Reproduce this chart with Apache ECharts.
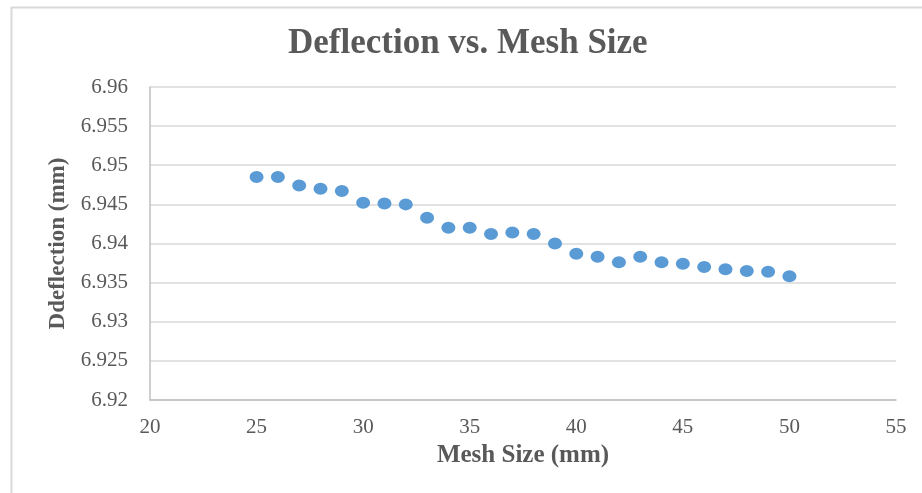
<!DOCTYPE html>
<html>
<head>
<meta charset="utf-8">
<script src="https://cdn.jsdelivr.net/npm/echarts@6/dist/echarts.min.js"></script>
<style>
  html, body { margin: 0; padding: 0; background: #ffffff; }
  #chart { width: 922px; height: 493px; }
</style>
</head>
<body>
<div id="chart"></div>
<script>
// Mesh size (mm) and the computed deflection (mm) for each mesh
const meshSize = [25, 26, 27, 28, 29, 30, 31, 32, 33, 34, 35, 36, 37, 38, 39, 40, 41, 42, 43, 44, 45, 46, 47, 48, 49, 50];
const deflection = [6.9485, 6.9485, 6.9474, 6.9470, 6.9467, 6.9452, 6.9451, 6.9450, 6.9433, 6.9420,
                    6.9420, 6.9412, 6.9414, 6.9412, 6.9400, 6.9387, 6.9383, 6.9376, 6.9383, 6.9376,
                    6.9374, 6.9370, 6.9367, 6.9365, 6.9364, 6.9358];

const titleText = 'Deflection vs. Mesh Size';
const xAxisTitle = 'Mesh Size (mm)';
const yAxisTitle = 'Ddeflection (mm)';

const serif = "'Liberation Serif', 'Times New Roman', serif";
const textGray = '#595959';

const points = meshSize.map((m, i) => [m, deflection[i]]);

const chart = echarts.init(document.getElementById('chart'), null, { renderer: 'canvas' });
chart.setOption({
  backgroundColor: '#ffffff',
  animation: false,
  graphic: [{
    type: 'rect',
    left: 9, top: 5,
    shape: { width: 1000, height: 1000 },
    style: { fill: 'none', stroke: '#D9D9D9', lineWidth: 2 },
    silent: true
  }],
  title: {
    text: titleText,
    left: 283,
    top: 21,
    textStyle: { fontFamily: serif, fontWeight: 'bold', fontSize: 35, color: textGray }
  },
  grid: { left: 150, right: 26, top: 87, bottom: 93 },
  xAxis: {
    type: 'value',
    min: 20, max: 55, interval: 5,
    name: xAxisTitle,
    nameLocation: 'middle',
    nameGap: 42,
    nameTextStyle: { fontFamily: serif, fontWeight: 'bold', fontSize: 25, color: textGray },
    axisLine: { show: true, lineStyle: { color: '#BFBFBF', width: 1.5 } },
    axisTick: { show: false },
    splitLine: { show: false },
    axisLabel: { fontFamily: serif, fontSize: 21, color: textGray, margin: 17 }
  },
  yAxis: {
    type: 'value',
    min: 6.92, max: 6.96, interval: 0.005,
    name: yAxisTitle,
    nameLocation: 'middle',
    nameGap: 80,
    nameTextStyle: { fontFamily: serif, fontWeight: 'bold', fontSize: 23, color: textGray },
    axisLine: { show: true, lineStyle: { color: '#BFBFBF', width: 1.5 } },
    axisTick: { show: false },
    splitLine: { show: true, lineStyle: { color: '#D9D9D9', width: 1.5 } },
    axisLabel: {
      fontFamily: serif, fontSize: 21, color: textGray, margin: 22,
      formatter: v => String(parseFloat(v.toFixed(3)))
    }
  },
  series: [{
    type: 'scatter',
    data: points,
    symbol: 'circle',
    symbolSize: [14, 12],
    itemStyle: { color: '#5B9BD5', opacity: 1 }
  }]
});
</script>
</body>
</html>
